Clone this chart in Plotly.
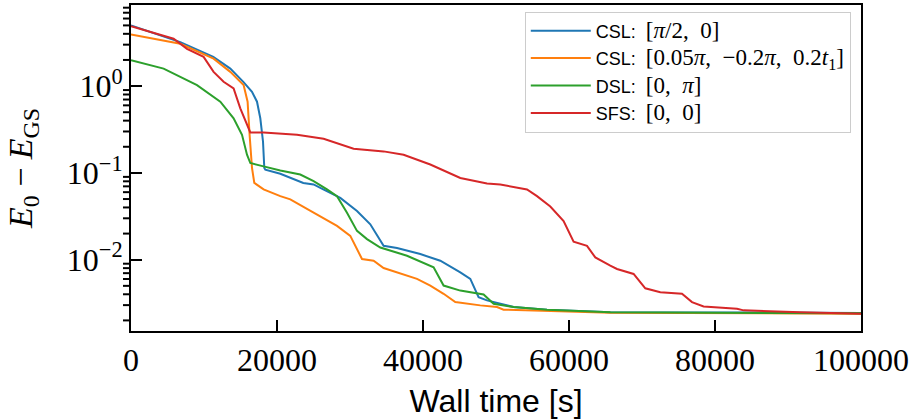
import math as _m
import plotly.graph_objects as go

# ---- data (wall time [s], E0 - EGS) ----
csl_a_t = [0, 6753, 11274, 13603, 15384, 16575, 17260, 17712, 18082, 18260, 18397, 20452, 23603, 25014,
           26342, 28671, 30959, 32781, 34603, 36438, 39630, 42370, 45110, 46479, 47616, 48767, 52411,
           56986, 65658, 100000]
csl_a_e = [5.0, 3.21, 2.17, 1.59, 1.12, 0.861, 0.661, 0.426, 0.230, 0.114, 0.109, 0.0978, 0.0767, 0.0736,
           0.0645, 0.0516, 0.0364, 0.0256, 0.01446, 0.01362, 0.01162, 0.00973, 0.00716, 0.00601, 0.00370,
           0.00340, 0.00285, 0.00266, 0.00249, 0.00244]

csl_b_t = [0, 6753, 11315, 13603, 15425, 15973, 16247, 16575, 16890, 18164, 20452, 21822, 25014, 28219,
           30041, 31644, 33233, 34603, 39178, 41000, 42822, 44425, 47849, 50137, 51041, 65658, 100000]
csl_b_e = [3.94, 3.07, 2.07, 1.458, 1.027, 0.661, 0.275, 0.114, 0.0767, 0.0645, 0.0540, 0.0495, 0.0348,
           0.0245, 0.01882, 0.01019, 0.00975, 0.00803, 0.00601, 0.00504, 0.00405, 0.00325, 0.00298,
           0.00285, 0.00266, 0.00245, 0.00239]

dsl_t = [0, 4466, 9041, 12233, 14055, 15205, 15890, 16342, 18164, 20452, 23192, 25014, 26849, 28219,
         29589, 30959, 32329, 34151, 37808, 41452, 42822, 45110, 48301, 49671, 52411, 56986, 65658, 100000]
dsl_e = [1.99, 1.59, 1.027, 0.661, 0.426, 0.275, 0.162, 0.130, 0.119, 0.1064, 0.0958, 0.0802, 0.0645,
         0.0540, 0.0348, 0.0215, 0.01726, 0.01383, 0.01111, 0.00817, 0.00504, 0.00441, 0.00397, 0.00311,
         0.00285, 0.00266, 0.00249, 0.00241]

sfs_t = [0, 5836, 7671, 9945, 11315, 12685, 14055, 14973, 16342, 18164, 22740, 26384, 30493, 34603,
         37342, 39630, 41000, 45110, 46932, 48767, 50589, 54247, 55616, 57438, 59260, 60630, 62466,
         63603, 65658, 66575, 68849, 70452, 72507, 75479, 76849, 78438, 83014, 83918, 91685, 100000]
sfs_e = [4.90, 3.51, 2.69, 2.17, 1.458, 1.12, 0.939, 0.554, 0.292, 0.292, 0.275, 0.247, 0.190, 0.177,
         0.162, 0.136, 0.125, 0.0875, 0.0817, 0.0755, 0.0736, 0.0645, 0.0540, 0.0410, 0.0279, 0.0161,
         0.01446, 0.01062, 0.00853, 0.00783, 0.00686, 0.00469, 0.00423, 0.00405, 0.00325, 0.00290,
         0.00273, 0.00261, 0.00249, 0.00239]

x_ticks = [0, 20000, 40000, 60000, 80000, 100000]
y_ticks = [1, 0.1, 0.01]
y_ticktext = ["10<sup>0</sup>", "10<sup>−1</sup>", "10<sup>−2</sup>"]
y_range_log = [-2.821, 0.934]

serif = "Liberation Serif"
sans = "Liberation Sans"


def math(s):
    return f"<span style='font-family:{serif};font-size:23px'>{s}</span>"


names = [
    "CSL:  " + math("[<i>π</i>/2,  0]"),
    "CSL:  " + math("[0.05<i>π</i>,  −0.2<i>π</i>,  0.2<i>t</i><sub>1</sub>]"),
    "DSL:  " + math("[0,  <i>π</i>]"),
    "SFS:  " + math("[0,  0]"),
]
series = [(csl_a_t, csl_a_e), (csl_b_t, csl_b_e), (dsl_t, dsl_e), (sfs_t, sfs_e)]
colors = ["#1f77b4", "#ff7f0e", "#2ca02c", "#d62728"]

fig = go.Figure()
for i, ((t, e), n, c) in enumerate(zip(series, names, colors)):
    fig.add_trace(go.Scatter(x=t, y=e, mode="lines", name=n, legendgroup=str(i),
                             line=dict(color=c, width=2)))

# minor log ticks (outside, on the left spine): axis decorations in paper coordinates
lo_l, hi_l = y_range_log
plot_w = 912 - 131 - 51
for p in range(-3, 1):
    for k in range(2, 10):
        lv = _m.log10(k * 10.0 ** p)
        if lo_l <= lv <= hi_l:
            yp = (lv - lo_l) / (hi_l - lo_l)
            fig.add_shape(type="line", xref="paper", yref="paper",
                          x0=-8 / plot_w, x1=-1 / plot_w, y0=yp, y1=yp,
                          line=dict(color="black", width=2), layer="above")

fig.update_layout(
    width=912, height=419,
    margin=dict(l=131, r=51, t=3, b=88),
    plot_bgcolor="white", paper_bgcolor="white",
    showlegend=True,
    legend=dict(x=0.986, y=0.98, xanchor="right", yanchor="top",
                bgcolor="rgba(255,255,255,0.8)", bordercolor="#cccccc", borderwidth=1,
                font=dict(family=sans, size=18, color="black"), tracegroupgap=1, itemwidth=60),
    xaxis=dict(
        range=[0, 100000], showgrid=False, zeroline=False,
        showline=True, linecolor="black", linewidth=2, mirror=True,
        ticks="inside", ticklen=11, tickwidth=2, tickcolor="black",
        tickvals=x_ticks, ticktext=[str(v) for v in x_ticks],
        tickfont=dict(family=serif, size=32, color="black"),
        title=dict(text="Wall time [s]", font=dict(family=sans, size=32, color="black"), standoff=14),
    ),
    yaxis=dict(
        type="log", range=y_range_log, showgrid=False, zeroline=False,
        showline=True, linecolor="black", linewidth=2, mirror=True,
        ticks="inside", ticklen=11, tickwidth=2, tickcolor="black",
        tickvals=y_ticks, ticktext=y_ticktext,
        tickfont=dict(family=serif, size=32, color="black"),
        title=dict(text="<i>E</i><sub>0</sub> − <i>E</i><sub>GS</sub>",
                   font=dict(family=serif, size=34, color="black"), standoff=24),
    ),
)

fig.write_html("out.html")
